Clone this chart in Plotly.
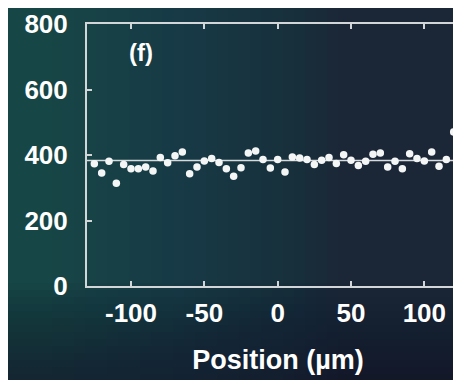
import plotly.graph_objects as go

# ---- data ----
positions_um = [-125, -120, -115, -110, -105, -100, -95, -90, -85, -80,
                -75, -70, -65, -60, -55, -50, -45, -40, -35, -30,
                -25, -20, -15, -10, -5, 0, 5, 10, 15, 20,
                25, 30, 35, 40, 45, 50, 55, 60, 65, 70,
                75, 80, 85, 90, 95, 100, 105, 110, 115, 120, 125]
values = [373, 345, 381, 314, 371, 358, 358, 363, 351, 392,
          376, 398, 409, 343, 363, 382, 389, 377, 358, 335,
          361, 406, 412, 386, 360, 386, 348, 394, 391, 386,
          371, 384, 392, 374, 401, 384, 368, 381, 402, 406,
          363, 381, 358, 404, 389, 382, 409, 366, 386, 470, 379]
mean_level = 383
line_x = [-130, 131]
x_ticks = [-100, -50, 0, 50, 100]
x_tick_text = ["-100", "-50", "0", "50", "100"]
y_ticks = [0, 200, 400, 600, 800]
y_tick_text = ["0", "200", "400", "600", "800"]
panel_label = "(f)"
x_title = "Position (µm)"

# ---- layout geometry (pixels, figure coordinates) ----
W, H = 461, 380
ML, MR, MT, MB = 79, 0, 16, 102
PW, PH = W - ML - MR, H - MT - MB


def px_x(p):
    return (p - ML) / PW


def px_y(p):
    return (H - MB - p) / PH


fig = go.Figure()
fig.add_trace(go.Scatter(x=line_x, y=[mean_level, mean_level], mode="lines",
                         line=dict(color="#d6dadc", width=1.5),
                         hoverinfo="skip", showlegend=False))
fig.add_trace(go.Scatter(x=positions_um, y=values, mode="markers",
                         marker=dict(color="#f4f6f6", size=7.5, line=dict(width=0)),
                         showlegend=False))

shapes = []
# teal glow from the left edge (many thin layers -> smooth gradient)
for i in range(1, 31):
    right = 11 * i
    shapes.append(dict(type="rect", xref="paper", yref="paper", layer="below",
                       x0=px_x(0), x1=px_x(right), y0=px_y(H), y1=px_y(0),
                       fillcolor="#1f5c57", opacity=0.045, line=dict(width=0)))
# darker band toward the bottom
for i in range(1, 16):
    top = H - 7 * i
    shapes.append(dict(type="rect", xref="paper", yref="paper", layer="below",
                       x0=px_x(0), x1=px_x(W), y0=px_y(H), y1=px_y(top),
                       fillcolor="#1c1626", opacity=0.05, line=dict(width=0)))

font_family = "Liberation Sans, Arial"
axis_common = dict(showline=True, linecolor="#d2d6d8", linewidth=2,
                   ticks="inside", ticklen=5, tickwidth=1.5, tickcolor="#d2d6d8",
                   showgrid=False, zeroline=False, automargin=False,
                   tickfont=dict(family=font_family, size=26, color="white", weight="bold"))

fig.update_layout(
    width=W, height=H,
    margin=dict(l=ML, r=MR, t=MT, b=MB),
    paper_bgcolor="#1b2637",
    plot_bgcolor="rgba(0,0,0,0)",
    shapes=shapes,
    xaxis=dict(range=[-130, 130.45], tickvals=x_ticks, ticktext=x_tick_text, mirror="ticks",
               ticklabelstandoff=3,
               title=dict(text=x_title, standoff=23,
                          font=dict(family=font_family, size=27, color="white", weight="bold")),
               **axis_common),
    yaxis=dict(range=[0, 800], tickvals=y_ticks, ticktext=y_tick_text,
               ticklabelstandoff=12, **axis_common),
    annotations=[dict(text=panel_label, xref="x", yref="y", x=-93, y=712,
                      showarrow=False,
                      font=dict(family=font_family, size=24, color="white", weight="bold"))],
)

fig.write_html("out.html")
